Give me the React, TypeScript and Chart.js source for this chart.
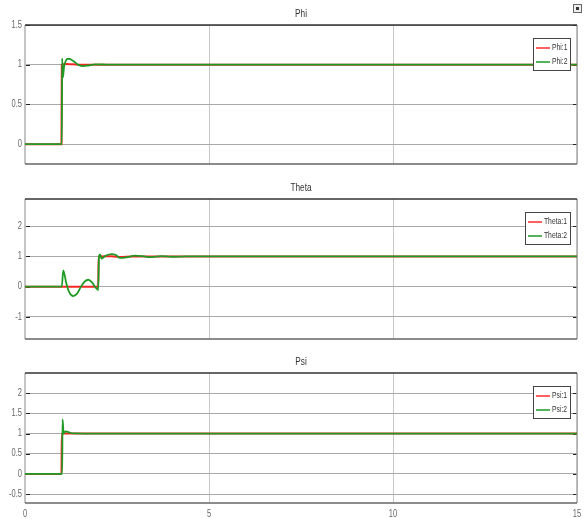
import React, { useEffect, useRef } from "react";
import { Chart, registerables } from "chart.js";

Chart.register(...registerables);

// Shared time axis (seconds)
const xTicks = [0, 5, 10, 15];

// Phi response
const phiTime1 = [0, 0.99, 1.0, 1.1, 1.3, 1.5, 1.8, 2.2, 15];
const phiVal1 = [0, 0, 1.0, 1.01, 1.005, 0.998, 1.0, 1.0, 1.0];
const phiTime2 = [0, 1.0, 1.01, 1.03, 1.06, 1.1, 1.16, 1.23, 1.33, 1.45, 1.58, 1.72, 1.9, 2.1, 2.4, 15];
const phiVal2 = [0, 0, 1.08, 0.84, 0.97, 1.04, 1.075, 1.07, 1.04, 0.998, 0.982, 0.99, 1.004, 1.003, 1.0, 1.0];
const phiTicks = [0, 0.5, 1, 1.5];

// Theta response
const thetaTime1 = [0, 1.99, 2.0, 2.2, 2.4, 2.6, 2.9, 3.3, 15];
const thetaVal1 = [0, 0, 1.0, 1.01, 1.0, 0.985, 1.0, 1.0, 1.0];
const thetaTime2 = [0, 1.0, 1.04, 1.12, 1.2, 1.31, 1.42, 1.52, 1.62, 1.72, 1.82, 1.92, 1.99, 2.01, 2.04, 2.08, 2.2, 2.35, 2.47, 2.58, 2.75, 2.99, 3.2, 3.4, 3.7, 4.0, 4.4, 15];
const thetaVal2 = [0, 0, 0.54, 0.12, -0.18, -0.31, -0.22, 0.0, 0.17, 0.23, 0.14, -0.03, -0.11, 1.0, 1.07, 0.93, 1.03, 1.08, 1.05, 0.95, 0.97, 1.03, 1.01, 0.975, 1.01, 0.99, 1.0, 1.0];
const thetaTicks = [-1, 0, 1, 2];

// Psi response
const psiTime1 = [0, 0.99, 1.0, 1.2, 15];
const psiVal1 = [0, 0, 1.0, 1.0, 1.0];
const psiTime2 = [0, 1.01, 1.02, 1.05, 1.09, 1.14, 1.22, 1.35, 1.6, 15];
const psiVal2 = [0, 0, 1.35, 1.0, 1.055, 1.05, 1.02, 1.003, 1.0, 1.0];
const psiTicks = [-0.5, 0, 0.5, 1, 1.5, 2];

const RED = "rgba(255,20,20,0.9)";
const GREEN = "#1f9a24";
const FONT = "'Liberation Sans', Arial, sans-serif";
const SQUEEZE = 0.75;

const toPoints = (t: number[], v: number[]) => t.map((x, i) => ({ x, y: v[i] }));

// Draws text compressed horizontally, like a narrow typeface
function narrowText(ctx: any, text: string, x: number, y: number, align: "left" | "right" | "center") {
  ctx.save();
  ctx.translate(x, y);
  ctx.scale(SQUEEZE, 1);
  ctx.textAlign = align;
  ctx.textBaseline = "middle";
  ctx.fillText(text, 0, 0);
  ctx.restore();
}

type PanelProps = {
  title: string;
  labels: [string, string];
  t1: number[];
  v1: number[];
  t2: number[];
  v2: number[];
  yMin: number;
  yMax: number;
  yTicks: number[];
  top: number;
  height: number;
  padTop: number;
  padBottom: number;
  showX: boolean;
};

const framePlugin = {
  id: "scopeFrame",
  beforeDatasetsDraw(chart: any) {
    const { ctx, chartArea: a, scales } = chart;
    ctx.save();
    // inward tick marks on both vertical edges
    ctx.strokeStyle = "#222";
    ctx.lineWidth = 1;
    scales.y.ticks.forEach((tk: any) => {
      const y = Math.round(scales.y.getPixelForValue(tk.value)) + 0.5;
      ctx.beginPath();
      ctx.moveTo(a.left, y);
      ctx.lineTo(a.left + 5, y);
      ctx.moveTo(a.right - 4, y);
      ctx.lineTo(a.right, y);
      ctx.stroke();
    });
    // frame
    ctx.lineWidth = 2;
    ctx.strokeStyle = "#c4c4c4";
    ctx.beginPath();
    ctx.moveTo(a.left, a.top);
    ctx.lineTo(a.left, a.bottom);
    ctx.stroke();
    ctx.strokeStyle = "#a8a8a8";
    ctx.lineWidth = 1.5;
    ctx.beginPath();
    ctx.moveTo(a.right, a.top);
    ctx.lineTo(a.right, a.bottom);
    ctx.stroke();
    ctx.strokeStyle = "#333";
    ctx.lineWidth = 1.5;
    ctx.beginPath();
    ctx.moveTo(a.left, a.top);
    ctx.lineTo(a.right, a.top);
    ctx.stroke();
    ctx.strokeStyle = "#666";
    ctx.beginPath();
    ctx.moveTo(a.left, a.bottom);
    ctx.lineTo(a.right, a.bottom);
    ctx.stroke();
    ctx.restore();
  },
  afterDraw(chart: any, _args: any, opts: any) {
    const { ctx, chartArea: a, scales } = chart;
    ctx.save();
    // tick labels
    ctx.font = `10px ${FONT}`;
    ctx.fillStyle = "#666";
    scales.y.ticks.forEach((tk: any) => {
      narrowText(ctx, String(tk.value), a.left - 3, scales.y.getPixelForValue(tk.value), "right");
    });
    if (opts.showX) {
      scales.x.ticks.forEach((tk: any) => {
        narrowText(ctx, String(tk.value), scales.x.getPixelForValue(tk.value), a.bottom + 11, "center");
      });
    }
    // title
    ctx.font = `11px ${FONT}`;
    ctx.fillStyle = "#333";
    narrowText(ctx, opts.title, (a.left + a.right) / 2, a.top - 11, "center");
    // legend box
    ctx.font = `9px ${FONT}`;
    const labels: string[] = opts.labels;
    const colors = [RED, GREEN];
    const tw = Math.max(...labels.map((l) => ctx.measureText(l).width)) * SQUEEZE;
    const w = Math.round(19 + tw + 3);
    const h = 32;
    const x0 = a.right - 7 - w;
    const y0 = a.top + 13;
    ctx.fillStyle = "#fff";
    ctx.fillRect(x0, y0, w, h);
    ctx.strokeStyle = "#444";
    ctx.lineWidth = 1;
    ctx.strokeRect(x0 + 0.5, y0 + 0.5, w, h);
    labels.forEach((l, i) => {
      const y = y0 + 10 + i * 14;
      ctx.strokeStyle = colors[i];
      ctx.lineWidth = 1.5;
      ctx.beginPath();
      ctx.moveTo(x0 + 3, y);
      ctx.lineTo(x0 + 17, y);
      ctx.stroke();
      ctx.fillStyle = "#333";
      narrowText(ctx, l, x0 + 19, y, "left");
    });
    ctx.restore();
  },
};

function Panel(p: PanelProps) {
  const ref = useRef<HTMLCanvasElement>(null);
  useEffect(() => {
    if (!ref.current) return;
    const chart = new Chart(ref.current, {
      type: "line",
      data: {
        datasets: [
          {
            label: p.labels[0],
            data: toPoints(p.t1, p.v1),
            borderColor: RED,
            borderWidth: 2,
            pointRadius: 0,
            cubicInterpolationMode: "monotone",
            order: 1,
          },
          {
            label: p.labels[1],
            data: toPoints(p.t2, p.v2),
            borderColor: GREEN,
            borderWidth: 1.8,
            pointRadius: 0,
            cubicInterpolationMode: "monotone",
            order: 0,
          },
        ],
      },
      options: {
        responsive: false,
        animation: false,
        parsing: false as any,
        layout: { padding: { left: 0, right: 7, top: p.padTop, bottom: p.padBottom } },
        plugins: {
          legend: { display: false },
          tooltip: { enabled: false },
          scopeFrame: { title: p.title, labels: p.labels, showX: p.showX },
        } as any,
        scales: {
          x: {
            type: "linear",
            min: 0,
            max: 15,
            afterBuildTicks: (s: any) => {
              s.ticks = xTicks.map((v) => ({ value: v }));
            },
            afterFit: (s: any) => {
              s.height = p.showX ? 16 : 0;
              s.paddingLeft = 0;
              s.paddingRight = 0;
            },
            grid: { color: "#c8c8c8", lineWidth: 1, drawTicks: false },
            border: { display: false },
            ticks: { display: false },
          },
          y: {
            type: "linear",
            min: p.yMin,
            max: p.yMax,
            afterBuildTicks: (s: any) => {
              s.ticks = p.yTicks.map((v) => ({ value: v }));
            },
            afterFit: (s: any) => {
              s.width = 25;
              s.paddingTop = 0;
              s.paddingBottom = 0;
            },
            grid: { color: "#a8a8a8", lineWidth: 1, drawTicks: false },
            border: { display: false },
            ticks: { display: false },
          },
        },
      },
      plugins: [framePlugin],
    });
    return () => chart.destroy();
  }, []);
  return (
    <canvas
      ref={ref}
      width={584}
      height={p.height}
      style={{ position: "absolute", left: 0, top: p.top, width: 584, height: p.height }}
    />
  );
}

export default function App() {
  return (
    <div
      style={{
        position: "fixed",
        left: 0,
        top: 0,
        width: 584,
        height: 519,
        background: "#fff",
        overflow: "hidden",
      }}
    >
      <div
        style={{
          position: "absolute",
          left: 573,
          top: 4,
          width: 7,
          height: 7,
          border: "1px solid #666",
          background: "#eee",
        }}
      >
        <div style={{ position: "absolute", left: 2, top: 2, width: 3, height: 3, background: "#333" }} />
      </div>
      <Panel
        title="Phi"
        labels={["Phi:1", "Phi:2"]}
        t1={phiTime1}
        v1={phiVal1}
        t2={phiTime2}
        v2={phiVal2}
        yMin={-0.25}
        yMax={1.5}
        yTicks={phiTicks}
        top={0}
        height={170}
        padTop={25}
        padBottom={6}
        showX={false}
      />
      <Panel
        title="Theta"
        labels={["Theta:1", "Theta:2"]}
        t1={thetaTime1}
        v1={thetaVal1}
        t2={thetaTime2}
        v2={thetaVal2}
        yMin={-1.73}
        yMax={2.9}
        yTicks={thetaTicks}
        top={170}
        height={170}
        padTop={29}
        padBottom={1}
        showX={false}
      />
      <Panel
        title="Psi"
        labels={["Psi:1", "Psi:2"]}
        t1={psiTime1}
        v1={psiVal1}
        t2={psiTime2}
        v2={psiVal2}
        yMin={-0.72}
        yMax={2.5}
        yTicks={psiTicks}
        top={340}
        height={179}
        padTop={33}
        padBottom={0}
        showX={true}
      />
    </div>
  );
}
